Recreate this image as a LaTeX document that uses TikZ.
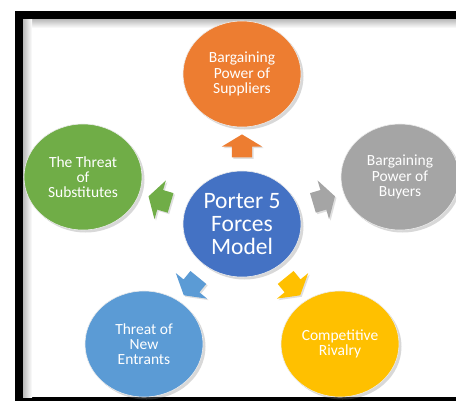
\documentclass[tikz,border=0pt]{standalone}
\usepackage{fontspec}
\setmainfont{Carlito}
\usetikzlibrary{shapes.geometric,shapes.arrows,shadows}
\definecolor{offblue}{HTML}{4472C4}
\definecolor{offorange}{HTML}{ED7D31}
\definecolor{offgray}{HTML}{A5A5A5}
\definecolor{offgold}{HTML}{FFC000}
\definecolor{offsky}{HTML}{5B9BD5}
\definecolor{offgreen}{HTML}{70AD47}

\begin{document}
\begin{tikzpicture}[x=1pt, y=-1pt, force/.style={ellipse, draw=white!85!gray, line width=0.6pt, minimum width=118pt, minimum height=106pt, inner sep=0pt, text=white, align=center, font=\fontsize{15.5}{15.3}\selectfont, drop shadow={opacity=0.3, shadow xshift=2.5pt, shadow yshift=-2.5pt}}, push/.style={single arrow, draw=none, minimum width=40pt, minimum height=23pt, single arrow head extend=10pt, single arrow tip angle=118, inner xsep=0pt, inner ysep=10pt, drop shadow={opacity=0.25, shadow xshift=1.5pt, shadow yshift=-1.5pt}}]
	\clip (0,0) rectangle (456,400);
	\fill[black] (15,11) rectangle (470,410);
	\fill[white] (23,19) rectangle (470,397);
	\shade[top color=gray!55, bottom color=white] (23,19) rectangle (470,28);
	\shade[left color=gray!55, right color=white] (23,19) rectangle (32,397);
	\node[force, fill=offblue, font=\fontsize{23.5}{23}\selectfont] (model) at (242,224) {Porter 5\\Forces\\Model};
	\node[force, fill=offorange] (sup) at (242,74) {Bargaining\\Power of\\Suppliers};
	\node[force, fill=offgray] (buy) at (400,177) {Bargaining\\Power of\\Buyers};
	\node[force, fill=offgold] (riv) at (340,344) {Competitive\\Rivalry};
	\node[force, fill=offsky] (ent) at (144,344) {Threat of\\New\\Entrants};
	\node[force, fill=offgreen] (subs) at (83,177) {The Threat\\of\\Substitutes};
	\foreach \n/\c in {sup/offorange, buy/offgray, riv/offgold, ent/offsky, subs/offgreen} {\path (model) -- (\n) node[push, fill=\c, midway, sloped, allow upside down] (a\n) {};}
\end{tikzpicture}
\end{document}
